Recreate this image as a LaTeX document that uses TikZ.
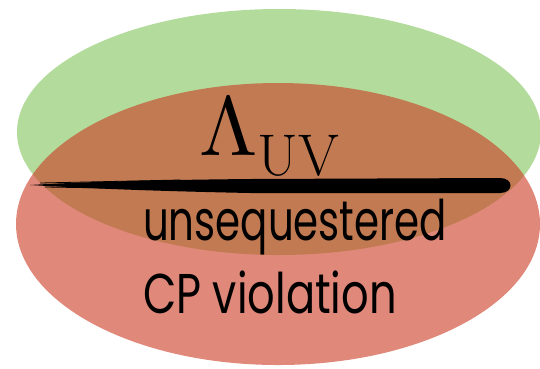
\documentclass[tikz,border=0pt]{standalone}
\usepackage{fontspec}
\usepackage{unicode-math}
\setmathfont{Latin Modern Math}
\newfontfamily\handfont{Poppins}
\usepackage{tikz}
\usetikzlibrary{positioning, calc}
\definecolor{scalegreen}{RGB}{179,220,156}
\definecolor{scalered}{RGB}{203,57,33}
\tikzset{
    blob/.style = {draw=none},
    handtext/.style = {inner sep=0pt, font=\handfont\fontsize{56}{56}\selectfont, text=black, xscale=0.72},
    scaletext/.style = {inner sep=0pt, font=\fontsize{84}{84}\selectfont}
}

\begin{document}
\begin{tikzpicture}[x=1pt, y=-1pt]
        \useasboundingbox (0,0) rectangle (540,368);
        % Ellipses
        \fill [blob, scalegreen] (279,132) ellipse [x radius=262, y radius=123];
        \fill [blob, scalered, opacity=0.6] (278,224) ellipse [x radius=262, y radius=141];

        % Brush stroke
        \fill [black] (30,185) .. controls (80,182) and (150,180) .. (250,179)
            -- (500,178) .. controls (514,178) and (514,193) .. (500,193)
            -- (250,193) .. controls (150,191) and (80,188) .. (30,185) -- cycle;
        \draw [black, line width=0.8pt] (40,183) -- (180,180);
        \draw [black, line width=0.8pt] (45,187) -- (170,189);

        % Nodes
        \node [scaletext, anchor=base west] (cutoff) at (199,155) {$\Lambda_{\mathrm{UV}}$};
        \node [handtext, anchor=base west] (unseq) at (143,240) {unsequestered};
        \node [handtext, anchor=base west, xscale=1.07] (cpv) at (143,313) {CP violation};
    \end{tikzpicture}
\end{document}
